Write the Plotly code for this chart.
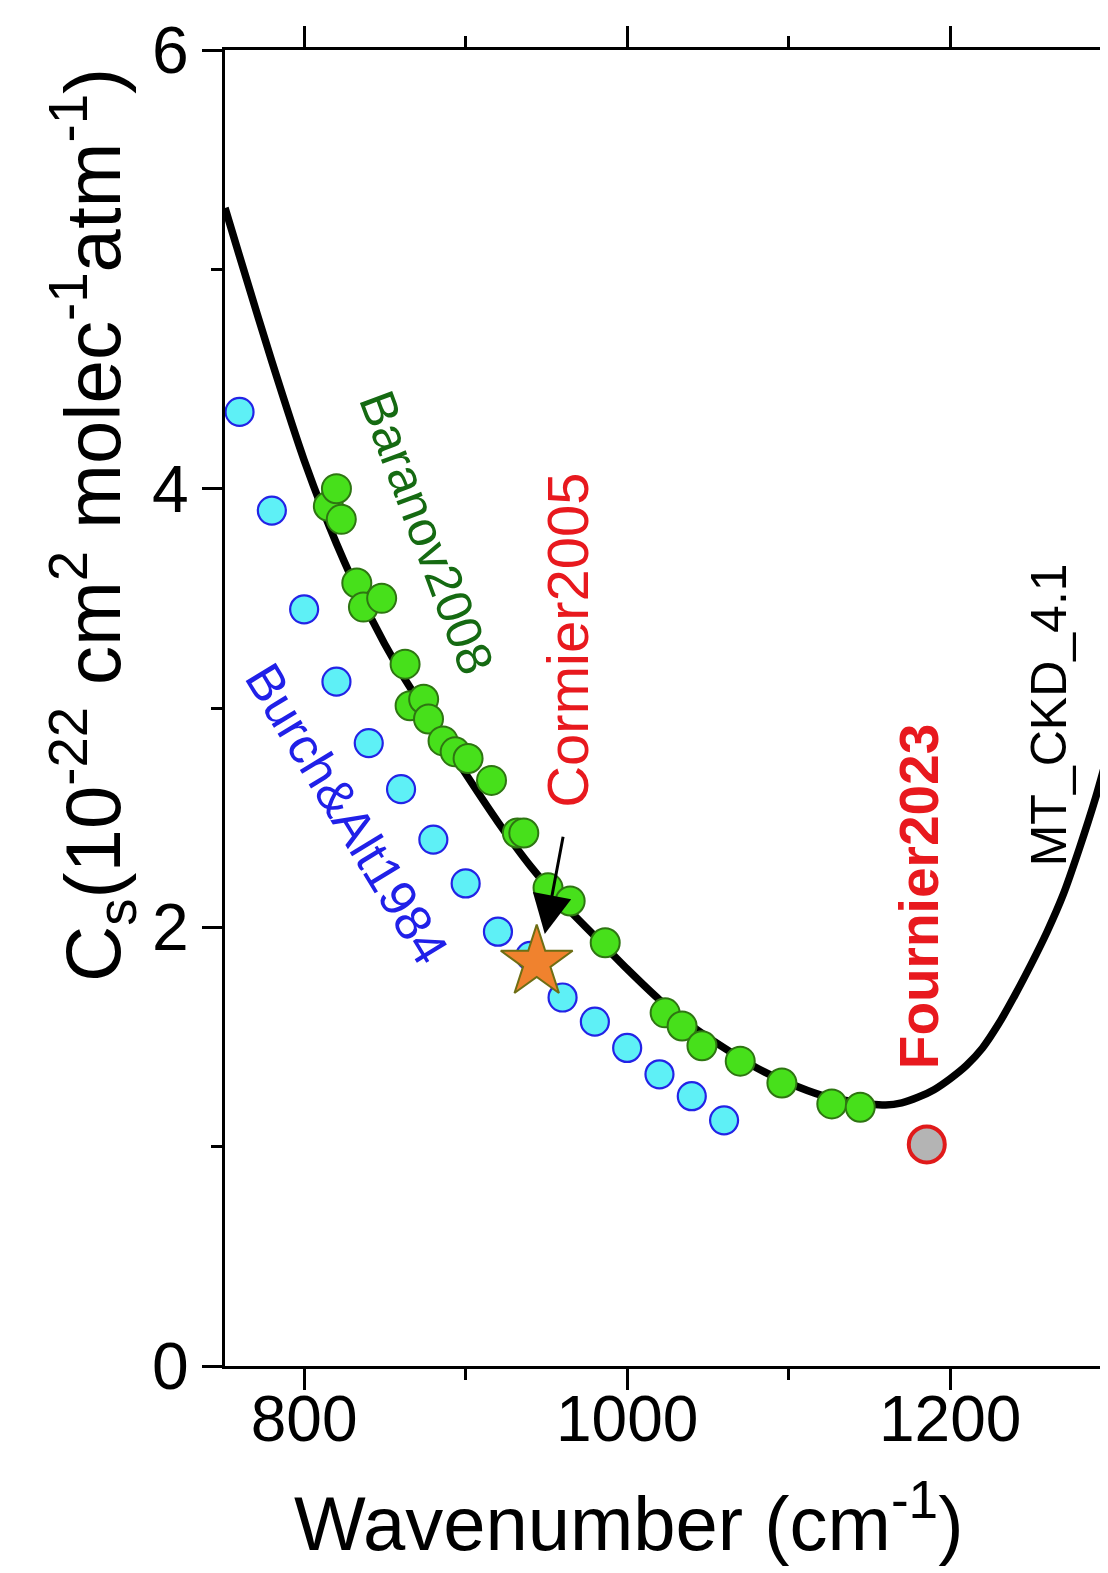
import plotly.graph_objects as go

# MT_CKD_4.1 continuum curve
ckd_x = [751, 760, 780, 800, 820, 840, 860, 880, 900, 920, 940, 960, 980, 1000,
         1020, 1040, 1060, 1080, 1100, 1120, 1140, 1150, 1160, 1170, 1180, 1190,
         1200, 1210, 1220, 1230, 1240, 1250, 1260, 1270, 1280, 1290, 1298]
ckd_y = [5.28, 5.06, 4.58, 4.13, 3.75, 3.43, 3.16, 2.93, 2.70, 2.48, 2.28, 2.11,
         1.96, 1.81, 1.67, 1.55, 1.45, 1.36, 1.29, 1.235, 1.205, 1.195, 1.19, 1.20,
         1.225, 1.26, 1.31, 1.37, 1.45, 1.56, 1.69, 1.83, 1.98, 2.15, 2.36, 2.59, 2.80]

# Burch & Alt 1984
burch_x = [760, 780, 800, 820, 840, 860, 880, 900, 920, 940, 960, 980, 1000, 1020, 1040, 1060]
burch_y = [4.35, 3.90, 3.45, 3.12, 2.84, 2.63, 2.40, 2.20, 1.98, 1.87, 1.68, 1.57, 1.45, 1.33, 1.23, 1.12]

# Baranov 2008
bar_x = [815, 820, 823, 832.6, 836.7, 848, 862.5, 865.6, 874, 877, 886, 893.5, 901.5,
         916, 932, 936, 951, 964.7, 986.4, 1023.5, 1034, 1046.3, 1070, 1095.8, 1126.7, 1144.3]
bar_y = [3.92, 4.00, 3.86, 3.57, 3.46, 3.50, 3.20, 3.01, 3.04, 2.95, 2.85, 2.80, 2.77,
         2.67, 2.43, 2.43, 2.18, 2.12, 1.93, 1.61, 1.55, 1.46, 1.39, 1.29, 1.195, 1.18]

# Cormier 2005
cor_x = [944]
cor_y = [1.84]

# Fournier 2023
fou_x = [1185.5]
fou_y = [1.01]

FONT = "Liberation Sans"

fig = go.Figure()
fig.add_trace(go.Scatter(x=ckd_x, y=ckd_y, mode="lines",
                         line=dict(color="black", width=7.5, shape="spline", smoothing=0.8),
                         hoverinfo="skip"))
fig.add_trace(go.Scatter(x=burch_x, y=burch_y, mode="markers",
                         marker=dict(size=28, color="#5EF0F6", line=dict(color="#2323E6", width=2.2))))
fig.add_trace(go.Scatter(x=bar_x, y=bar_y, mode="markers",
                         marker=dict(size=29, color="#47E01B", line=dict(color="#2E7512", width=2))))
fig.add_trace(go.Scatter(x=cor_x, y=cor_y, mode="markers",
                         marker=dict(symbol="star", size=54, color="#F0822E", line=dict(color="#6E6E14", width=2))))
fig.add_trace(go.Scatter(x=fou_x, y=fou_y, mode="markers",
                         marker=dict(size=36, color="#B4B4B4", line=dict(color="#E01A1A", width=4))))

annotations = [
    dict(x=876, y=3.80, xref="x", yref="y", text="Baranov2008", showarrow=False,
         xanchor="center", yanchor="middle",
         textangle=69.5, font=dict(family=FONT, size=50, color="#156A12")),
    dict(x=826.4, y=2.52, xref="x", yref="y", text="Burch&Alt1984", showarrow=False,
         xanchor="center", yanchor="middle",
         textangle=58.7, font=dict(family=FONT, size=51, color="#2020E8")),
    dict(x=962.6, y=3.31, xref="x", yref="y", text="Cormier2005", showarrow=False,
         xanchor="center", yanchor="middle",
         textangle=-90, font=dict(family=FONT, size=58, color="#E8191E")),
    dict(x=1180.4, y=2.14, xref="x", yref="y", text="<b>Fournier2023</b>", showarrow=False,
         xanchor="center", yanchor="middle",
         textangle=-90, font=dict(family=FONT, size=55, color="#E8191E")),
    dict(x=1261, y=2.97, xref="x", yref="y", text="MT_CKD_4.1", showarrow=False,
         xanchor="center", yanchor="middle",
         textangle=-90, font=dict(family=FONT, size=50, color="black")),
    dict(x=949, y=1.97, xref="x", yref="y", ax=960.5, ay=2.42, axref="x", ayref="y",
         text="", showarrow=True, arrowhead=2, arrowsize=2.6, arrowwidth=3, arrowcolor="black"),
    dict(x=-0.1495, y=0.639, xref="paper", yref="paper", showarrow=False, textangle=-90,
         xanchor="center", yanchor="middle",
         text="C<sub>s</sub>(10<sup>-22</sup> cm<sup>2</sup> molec<sup>-1</sup>atm<sup>-1</sup>)",
         font=dict(family=FONT, size=78, color="black")),
    dict(x=0.4564, y=-0.1155, xref="paper", yref="paper", showarrow=False,
         xanchor="center", yanchor="middle",
         text="Wavenumber (cm<sup>-1</sup>)",
         font=dict(family=FONT, size=76, color="black")),
]

# page body has an 8 px margin, so the figure is 8 px smaller and margins shifted
fig.update_layout(
    width=1100, height=1565,
    margin=dict(l=217, r=0, t=42, b=207),
    paper_bgcolor="white", plot_bgcolor="white",
    showlegend=False,
    annotations=annotations,
)
fig.update_xaxes(range=[751, 1297.7], showline=True, linecolor="black", linewidth=3,
                 mirror="ticks", ticks="outside", ticklen=21, tickwidth=3, tickcolor="black",
                 tickvals=[800, 1000, 1200], ticktext=["800", "1000", "1200"],
                 minor=dict(tickvals=[900, 1100], ticks="outside", ticklen=11, tickwidth=3, tickcolor="black"),
                 showgrid=False, zeroline=False, ticklabelstandoff=-26,
                 tickfont=dict(family=FONT, size=64, color="black"))
fig.update_yaxes(range=[0, 6], showline=True, linecolor="black", linewidth=3,
                 ticks="outside", ticklen=20, tickwidth=3, tickcolor="black",
                 tickvals=[0, 2, 4, 6], ticktext=["0", "2", "4", "6"],
                 minor=dict(tickvals=[1, 3, 5], ticks="outside", ticklen=11, tickwidth=3, tickcolor="black"),
                 showgrid=False, zeroline=False,
                 tickfont=dict(family=FONT, size=66, color="black"))

fig.write_html("out.html")
